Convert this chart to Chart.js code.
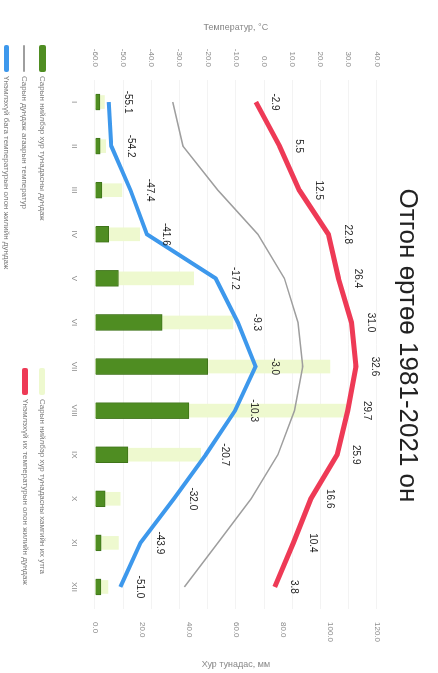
<!DOCTYPE html>
<html>
<head>
<meta charset="utf-8">
<script src="https://cdn.jsdelivr.net/npm/chart.js@4.4.1/dist/chart.umd.min.js"></script>
<style>
  html, body { margin: 0; padding: 0; background: #fff; overflow: hidden; }
  body { width: 438px; height: 673px; position: relative; }
  /* the chart is drawn landscape and then turned a quarter clockwise */
  #wrap {
    position: absolute; left: 0; top: 0;
    width: 673px; height: 438px;
    transform-origin: 0 0;
    transform: translate(438px, 0) rotate(90deg);
    font-family: 'Liberation Sans', Arial, sans-serif;
  }
  #wrap canvas { position: absolute; left: 0; top: 0; }
  .lg { position: absolute; font-size: 8px; color: #7a7a7a; white-space: nowrap; line-height: 10px; }
  .lg i { display: inline-block; width: 27px; vertical-align: middle; margin-right: 4px; border-radius: 2px; }
</style>
</head>
<body>
<div id="wrap">
  <canvas id="chart" width="673" height="438"></canvas>
  <div class="lg" style="left:45px; top:391px;"><i style="height:7px;background:#4f8d22;"></i>Сарын нийлбэр хур тунадасны дундаж</div>
  <div class="lg" style="left:45px; top:409px;"><i style="height:2px;background:#9e9e9e;"></i>Сарын дундаж агаарын температур</div>
  <div class="lg" style="left:45px; top:427px;"><i style="height:5px;background:#3d98ec;"></i>Үнэмлэхүй бага температурын олон жилийн дундаж</div>
  <div class="lg" style="left:368px; top:391px;"><i style="height:6px;background:#eef9cf;"></i>Сарын нийлбэр хур тунадасны хамгийн их утга</div>
  <div class="lg" style="left:368px; top:408px;"><i style="height:6px;background:#ee3a56;"></i>Үнэмлэхүй их температурын олон жилийн дундаж</div>
</div>
<script>
/* ===============================
   Data
================================ */
const months = ['I', 'II', 'III', 'IV', 'V', 'VI', 'VII', 'VIII', 'IX', 'X', 'XI', 'XII'];

const tempMax = [-2.9, 5.5, 12.5, 22.8, 26.4, 31.0, 32.6, 29.7, 25.9, 16.6, 10.4, 3.8];
const tempMin = [-55.1, -54.2, -47.4, -41.6, -17.2, -9.3, -3.0, -10.3, -20.7, -32.0, -43.9, -51.0];
const tempMean = [-32.4, -28.8, -16.4, -2.2, 7.2, 12.0, 13.7, 10.8, 4.9, -4.6, -16.4, -28.3];

const precipMean = [2.1, 2.2, 3.0, 5.8, 10.0, 28.6, 48.0, 40.0, 14.0, 4.3, 2.6, 2.5];
const precipMax = [4.0, 4.5, 11.5, 19.0, 42.0, 58.7, 100.0, 107.0, 45.0, 10.7, 10.0, 5.5];

const tempTicks = [-60, -50, -40, -30, -20, -10, 0, 10, 20, 30, 40];
const precipTicks = [0, 20, 40, 60, 80, 100, 120];

const FONT = "'Liberation Sans', Arial, sans-serif";

/* value labels over the two extreme lines */
const valueLabels = {
  id: 'valueLabels',
  afterDatasetsDraw(chart) {
    const ctx = chart.ctx;
    ctx.save();
    ctx.font = '10px ' + FONT;
    ctx.fillStyle = '#222';
    ctx.textAlign = 'center';
    ctx.textBaseline = 'middle';
    chart.data.datasets.forEach((ds, i) => {
      if (!ds.showValues) return;
      chart.getDatasetMeta(i).data.forEach((pt, j) => {
        ctx.fillText(ds.data[j].toFixed(1), pt.x, pt.y - 19);
      });
    });
    ctx.restore();
  }
};

/* right axis title reads bottom-to-top like the left one */
const rightTitle = {
  id: 'rightTitle',
  afterDraw(chart) {
    const ctx = chart.ctx;
    const a = chart.chartArea;
    ctx.save();
    ctx.font = '9px ' + FONT;
    ctx.fillStyle = '#8a8a8a';
    ctx.textAlign = 'center';
    ctx.textBaseline = 'middle';
    ctx.translate(665, (a.top + a.bottom) / 2);
    ctx.rotate(-Math.PI / 2);
    ctx.fillText('Хур тунадас, мм', 0, 0);
    ctx.restore();
  }
};

const chart = new Chart(document.getElementById('chart').getContext('2d'), {
  type: 'bar',
  data: {
    labels: months,
    datasets: [
      {
        type: 'line',
        data: tempMax,
        yAxisID: 'yT',
        borderColor: '#ee3a56',
        borderWidth: 5,
        pointRadius: 0,
        tension: 0,
        showValues: true,
        order: 0
      },
      {
        type: 'line',
        data: tempMin,
        yAxisID: 'yT',
        borderColor: '#3d98ec',
        borderWidth: 4,
        pointRadius: 0,
        tension: 0,
        showValues: true,
        order: 0
      },
      {
        type: 'line',
        data: tempMean,
        yAxisID: 'yT',
        borderColor: '#9e9e9e',
        borderWidth: 1.5,
        pointRadius: 0,
        tension: 0,
        order: 0
      },
      {
        data: precipMean,
        yAxisID: 'yP',
        backgroundColor: '#4f8d22',
        borderColor: '#3f7419',
        borderWidth: 1,
        barThickness: 16,
        grouped: false,
        order: 1
      },
      {
        data: precipMax,
        yAxisID: 'yP',
        backgroundColor: '#eef9cf',
        barThickness: 13,
        grouped: false,
        order: 2
      }
    ]
  },
  options: {
    responsive: false,
    animation: false,
    layout: { padding: { left: 18, right: 0, top: 0, bottom: 0 } },
    plugins: {
      legend: { display: false },
      tooltip: { enabled: false },
      title: {
        display: true,
        text: 'Отгон өртөө 1981-2021 он',
        color: '#222',
        font: { family: FONT, size: 26, weight: 'normal' },
        padding: { top: 15, bottom: 15 }
      }
    },
    scales: {
      x: {
        grid: { display: false },
        border: { display: false },
        ticks: { color: '#8a8a8a', padding: 8, font: { family: FONT, size: 8 } },
        afterFit(axis) { axis.height = 95; }
      },
      yT: {
        position: 'left',
        min: -60,
        max: 40,
        afterBuildTicks(axis) { axis.ticks = tempTicks.map(v => ({ value: v })); },
        ticks: {
          color: '#8a8a8a',
          padding: 13,
          font: { family: FONT, size: 8 },
          callback: v => v.toFixed(1)
        },
        grid: { color: '#f3f3f3', drawTicks: false },
        border: { display: false },
        title: {
          display: true,
          text: 'Температур, °C',
          color: '#8a8a8a',
          font: { family: FONT, size: 9 },
          padding: 4
        },
        afterFit(axis) { axis.width = 62; }
      },
      yP: {
        position: 'right',
        min: 0,
        max: 120,
        afterBuildTicks(axis) { axis.ticks = precipTicks.map(v => ({ value: v })); },
        ticks: {
          color: '#8a8a8a',
          padding: 13,
          font: { family: FONT, size: 8 },
          callback: v => v.toFixed(1)
        },
        grid: { drawOnChartArea: false, drawTicks: false },
        border: { display: false },
        afterFit(axis) { axis.width = 64; }
      }
    }
  },
  plugins: [valueLabels, rightTitle]
});
</script>
</body>
</html>
